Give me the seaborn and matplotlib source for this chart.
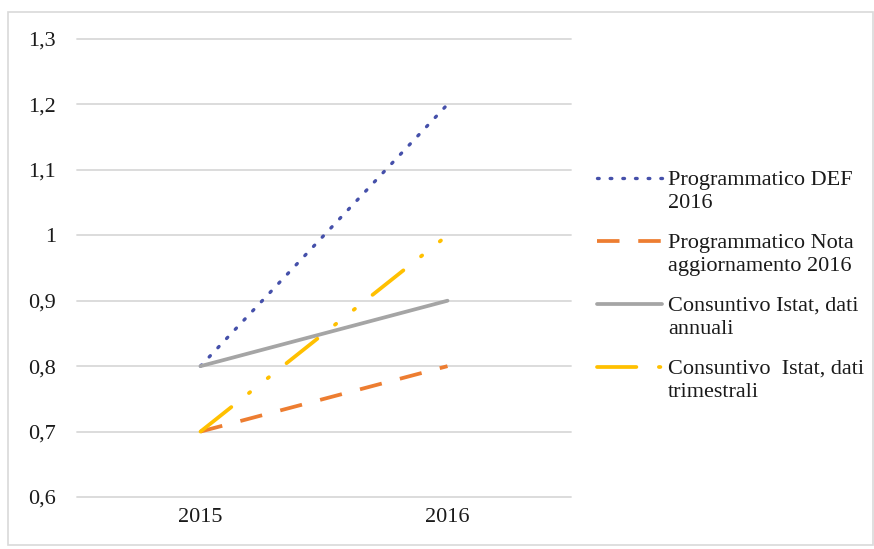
import matplotlib
matplotlib.use("Agg")
import matplotlib.pyplot as plt
import seaborn as sns
from matplotlib.lines import Line2D
from matplotlib.patches import Rectangle

# data
years = ["2015", "2016"]
def_2016 = [0.8, 1.2]
nota_agg_2016 = [0.7, 0.8]
istat_annuali = [0.8, 0.9]
istat_trimestrali = [0.7, 1.0]

y_ticks = [0.6, 0.7, 0.8, 0.9, 1.0, 1.1, 1.2, 1.3]
y_tick_labels = ["0,6", "0,7", "0,8", "0,9", "1", "1,1", "1,2", "1,3"]

labels = [
    "Programmatico DEF\n2016",
    "Programmatico Nota\naggiornamento 2016",
    "Consuntivo Istat, dati\nannuali",
    "Consuntivo  Istat, dati\ntrimestrali",
]

sns.set_theme(style="white")
plt.rcParams["font.family"] = ["Liberation Serif", "DejaVu Serif"]

W, H = 874, 549
fig = plt.figure(figsize=(W / 100, H / 100), dpi=100)
ax = fig.add_axes([77 / W, 1 - 497 / H, (571 - 77) / W, (497 - 39) / H])

x = list(range(len(years)))
styles = [
    (def_2016, "#4550AA", (0, (0.5, 3.3)), "round", 2.4),
    (nota_agg_2016, "#ED7D31", (0, (6.0, 5.0)), "butt", 2.7),
    (istat_annuali, "#A5A5A5", "-", "butt", 2.7),
    (istat_trimestrali, "#FFC000", (0, (10.5, 6.0, 0.4, 6.0, 0.4, 6.0)), "round", 2.7),
]
for vals, col, ls, cap, lw in styles:
    sns.lineplot(x=x, y=vals, ax=ax, color=col, linestyle=ls, linewidth=lw,
                 dash_capstyle=cap)

ax.set_xlim(-0.5, len(years) - 0.5)
ax.set_ylim(0.6, 1.3)
ax.set_xticks(x)
ax.set_xticklabels(years)
ax.set_yticks(y_ticks)
ax.set_yticklabels(y_tick_labels)
ax.tick_params(axis="y", labelsize=16, pad=15, length=0, colors="#1a1a1a")
ax.tick_params(axis="x", labelsize=16, pad=8, length=0, colors="#1a1a1a")
ax.grid(axis="y", color="#D9D9D9", linewidth=1.3)
ax.grid(axis="x", visible=False)
for gl in ax.get_ygridlines():
    gl.set_clip_on(False)
for s in ax.spines.values():
    s.set_visible(False)
ax.set_xlabel("")
ax.set_ylabel("")

# legend, Excel style: key line next to the first text line
for i, ((vals, col, ls, cap, lw), lab) in enumerate(zip(styles, labels)):
    yc = 1 - (178 + 63 * i) / H
    fig.add_artist(Line2D([597 / W, 662 / W], [yc, yc], transform=fig.transFigure,
                          color=col, linestyle=ls, linewidth=lw, dash_capstyle=cap))
    fig.text(668 / W, yc + 7 / H, lab, fontsize=16, va="top", ha="left",
             linespacing=1.3, color="#1a1a1a")

fig.patches.append(Rectangle((8 / W, 4 / H), 1 - 9 / W, 1 - 16 / H,
                             transform=fig.transFigure, fill=False,
                             edgecolor="#D9D9D9", linewidth=1.2))

fig.savefig("out.png", dpi=100)
